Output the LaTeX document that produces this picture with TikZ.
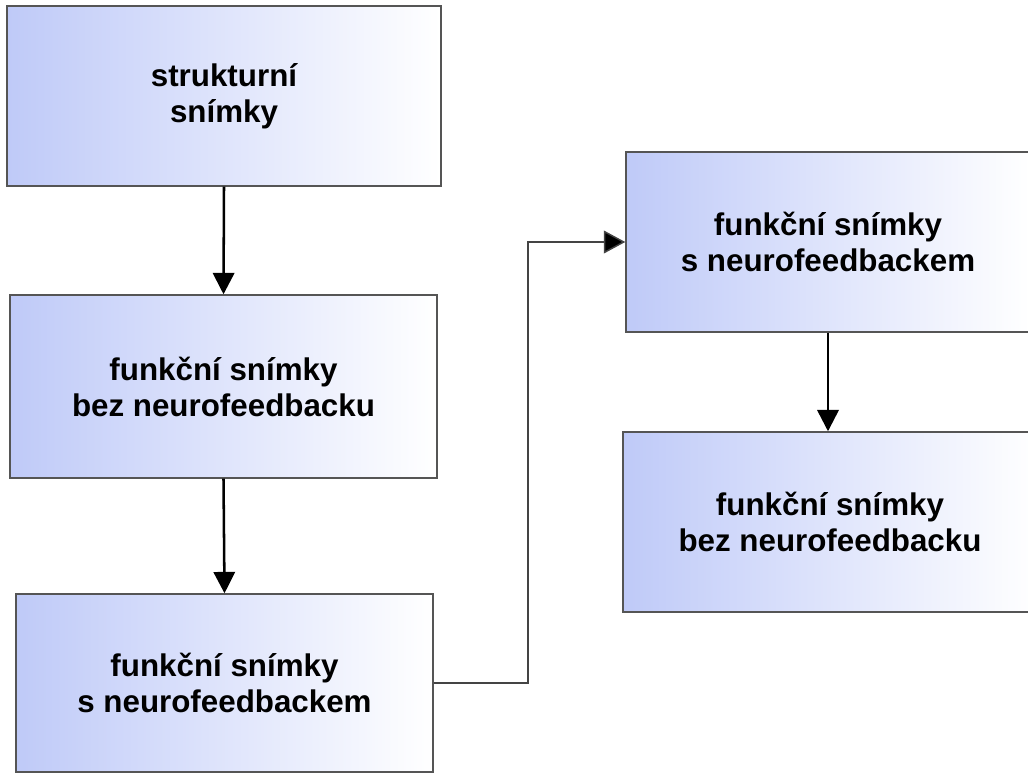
\documentclass[tikz,border=0pt]{standalone}
\usepackage{fontspec}
\setmainfont{Liberation Sans}
\usetikzlibrary{arrows.meta}
\definecolor{boxblue}{HTML}{BFCAF8}
\definecolor{boxline}{HTML}{555555}

\begin{document}
\begin{tikzpicture}[x=0.75pt, y=-0.75pt,
  stage/.style={draw=boxline, line width=1.1pt, left color=boxblue, right color=white,
    inner sep=0pt, align=center, font=\bfseries\fontsize{23.5}{27}\selectfont},
  down/.style={line width=1.9pt, -{Triangle[length=16pt, width=16pt]}},
  link/.style={draw=boxline!80!black, line width=1.1pt, -{Triangle[length=16pt, width=17pt, fill=black]}}]
\useasboundingbox (0, 0) rectangle (1028, 774);
\node [stage, minimum width=325.5pt, minimum height=135pt]    (struct) at (224, 96)    {strukturní\\snímky};
\node [stage, minimum width=320.25pt, minimum height=137.25pt] (bez1)  at (223.5, 386.5) {funkční snímky\\bez neurofeedbacku};
\node [stage, minimum width=312.75pt, minimum height=133.5pt] (nf1)    at (224.5, 683) {funkční snímky\\s neurofeedbackem};
\node [stage, minimum width=303pt, minimum height=135pt]      (nf2)    at (828, 242)   {funkční snímky\\s neurofeedbackem};
\node [stage, minimum width=310.5pt, minimum height=135pt]    (bez2)   at (830, 522)   {funkční snímky\\bez neurofeedbacku};

\draw [down] (struct.south) -- (bez1.north);
\draw [down] (bez1.south) -- (nf1.north);
\draw [down] (nf2.south) -- (bez2.north -| nf2.south);

\coordinate (bend) at (528, 683);
\draw [link] (nf1.east) -- (bend) |- (nf2.west);
\end{tikzpicture}
\end{document}
